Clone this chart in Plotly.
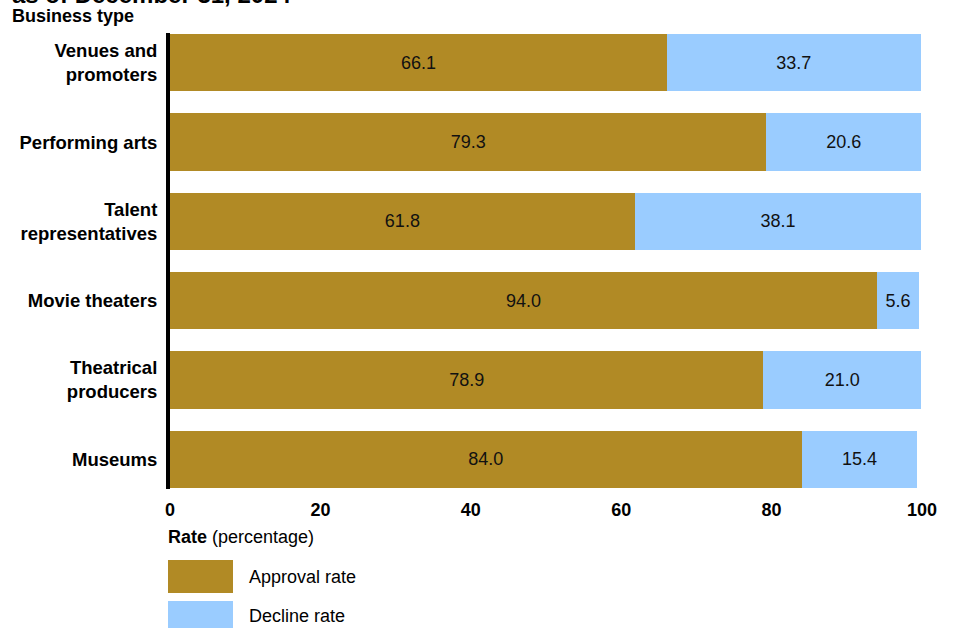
import plotly.graph_objects as go

# ---- data ----
categories = ["Venues and<br>promoters", "Performing arts", "Talent<br>representatives",
              "Movie theaters", "Theatrical<br>producers", "Museums"]
approval_rate = [66.1, 79.3, 61.8, 94.0, 78.9, 84.0]
decline_rate = [33.7, 20.6, 38.1, 5.6, 21.0, 15.4]
x_ticks = [0, 20, 40, 60, 80, 100]
series_names = ["Approval rate", "Decline rate"]

# ---- styling ----
W, H = 953, 628
ML, MR, MT, MB = 170, 31, 33, 139
GOLD = "#B18A25"
BLUE = "#9ACCFF"
FONT = "Arial, Liberation Sans, Helvetica, sans-serif"


def px_x(x):
    return (x - ML) / (W - ML - MR)


def px_y(y):
    return (H - MB - y) / (H - MT - MB)


fig = go.Figure()
for name, vals, col in [(series_names[0], approval_rate, GOLD),
                        (series_names[1], decline_rate, BLUE)]:
    fig.add_trace(go.Bar(
        y=list(range(len(categories))), x=vals, orientation="h", name=name,
        marker=dict(color=col, line=dict(width=0)),
        text=[f"{v:.1f}" for v in vals], textposition="inside",
        insidetextanchor="middle", constraintext="none",
        textfont=dict(family=FONT, size=18, color="#111111"),
        showlegend=False, hoverinfo="x+name",
    ))

fig.update_layout(
    width=W, height=H, barmode="stack", bargap=0.28,
    margin=dict(l=ML, r=MR, t=MT, b=MB),
    paper_bgcolor="white", plot_bgcolor="white",
    font=dict(family=FONT, size=18, color="#000000"),
    xaxis=dict(range=[0, 100], tickvals=x_ticks, ticktext=[f"<b>{t}</b>" for t in x_ticks],
               showgrid=False, zeroline=False, showline=False, ticks="",
               ticklabelstandoff=8,
               tickfont=dict(size=18, color="#000000"), fixedrange=True),
    yaxis=dict(range=[5.375, -0.375], tickvals=list(range(len(categories))),
               ticktext=[f"<b>{c}</b>" for c in categories],
               showgrid=False, zeroline=False, showline=True, linecolor="#000000",
               linewidth=4, ticks="", ticklabelstandoff=5,
               tickfont=dict(size=18.5, color="#000000"), fixedrange=True),
)

annotations = [
    dict(text="<b>as of December 31, 2024</b>", x=px_x(10), y=px_y(-6),
         xanchor="left", yanchor="middle", font=dict(size=24, color="#000000")),
    dict(text="<b>Business type</b>", x=px_x(10), y=px_y(16),
         xanchor="left", yanchor="middle", font=dict(size=18, color="#000000")),
    dict(text="<b>Rate</b> (percentage)", x=px_x(166), y=px_y(537),
         xanchor="left", yanchor="middle", font=dict(size=18, color="#000000")),
    dict(text=series_names[0], x=px_x(247), y=px_y(577),
         xanchor="left", yanchor="middle", font=dict(size=18, color="#000000")),
    dict(text=series_names[1], x=px_x(247), y=px_y(616),
         xanchor="left", yanchor="middle", font=dict(size=18, color="#000000")),
]
for a in annotations:
    a.update(xref="paper", yref="paper", showarrow=False)
fig.update_layout(annotations=annotations)

shapes = [
    dict(type="rect", x0=px_x(168), x1=px_x(233), y0=px_y(560), y1=px_y(593),
         fillcolor=GOLD, line=dict(width=0)),
    dict(type="rect", x0=px_x(168), x1=px_x(233), y0=px_y(601), y1=px_y(634),
         fillcolor=BLUE, line=dict(width=0)),
]
for s in shapes:
    s.update(xref="paper", yref="paper", layer="above")
fig.update_layout(shapes=shapes)

fig.write_html("out.html", config={"displayModeBar": False},
               post_script="document.body.style.margin='0';document.body.style.overflow='hidden';")
